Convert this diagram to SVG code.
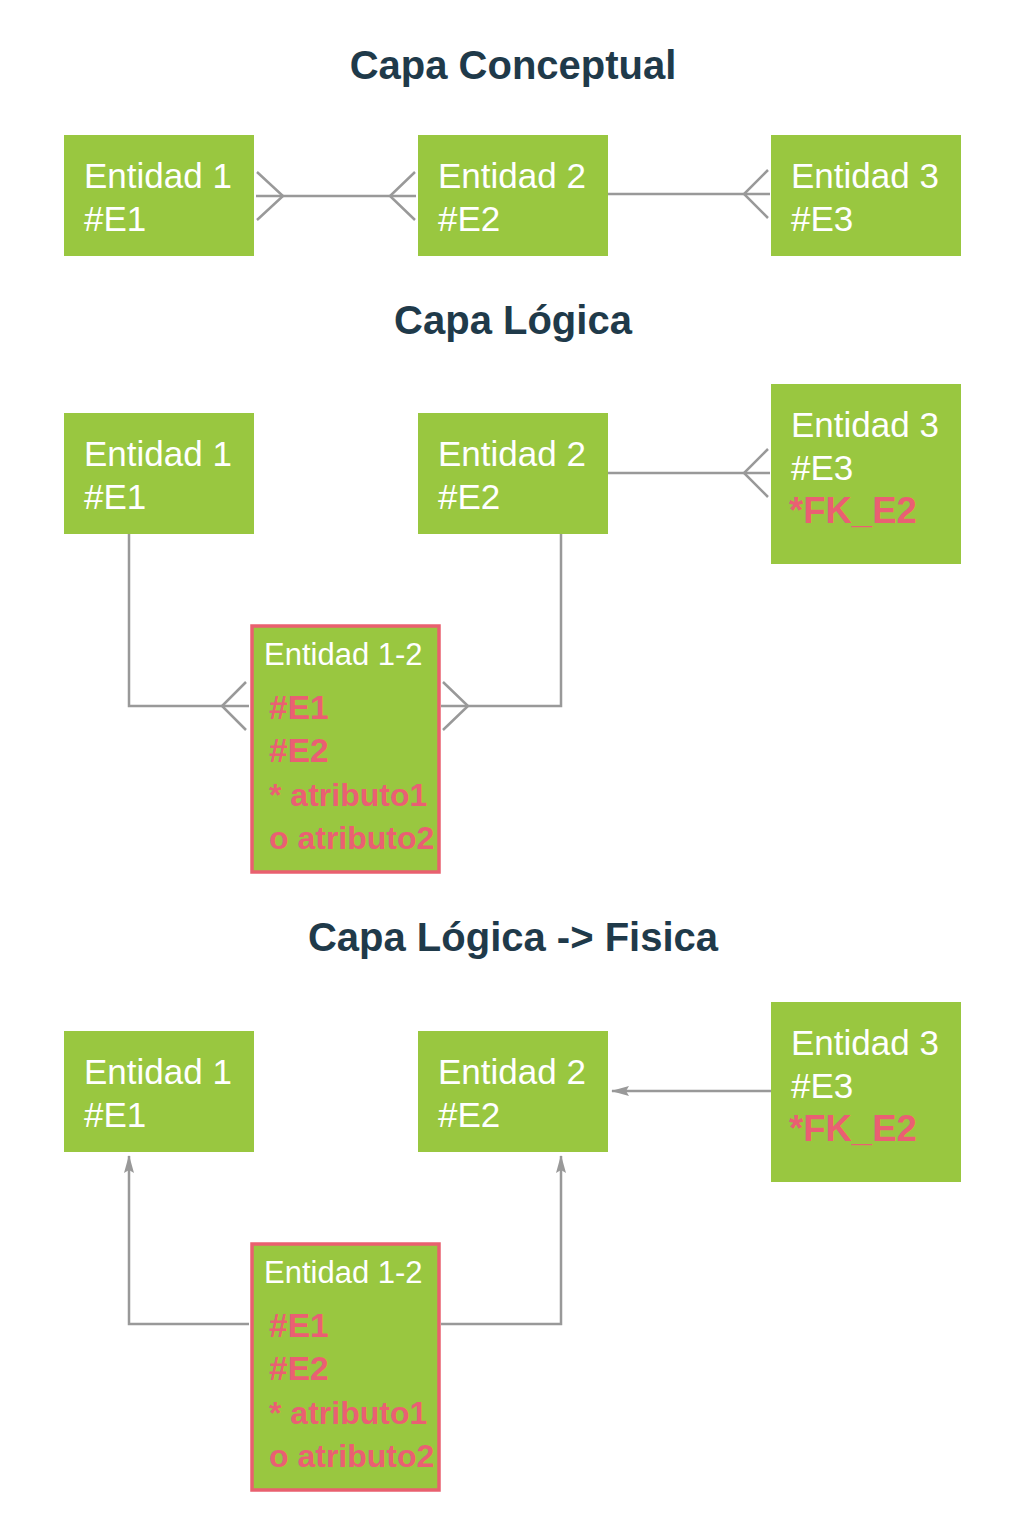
<svg xmlns="http://www.w3.org/2000/svg" width="1024" height="1536" viewBox="0 0 1024 1536">
<defs>
<style>
.title{font-family:"Liberation Sans",Arial,sans-serif;font-weight:bold;font-size:40px;fill:#1f3a4a;text-anchor:middle}
.box{fill:#99c740}
.jbox{fill:#99c740;stroke:#e9606f;stroke-width:3.5}
.t{font-family:"Liberation Sans",Arial,sans-serif;font-size:35px;fill:#ffffff}
.ts{font-family:"Liberation Sans",Arial,sans-serif;font-size:31px;fill:#ffffff}
.fk{font-family:"Liberation Sans",Arial,sans-serif;font-size:36.5px;font-weight:bold;fill:#ea5f73}
.pk{font-family:"Liberation Sans",Arial,sans-serif;font-size:33.5px;font-weight:bold;fill:#ea5f73}
.at{font-family:"Liberation Sans",Arial,sans-serif;font-size:32px;font-weight:bold;fill:#ea5f73}
.ln{fill:none;stroke:#999999;stroke-width:2.5}
</style>
<marker id="arrow" viewBox="0 0 18 12" refX="17" refY="6" markerWidth="18" markerHeight="12" markerUnits="userSpaceOnUse" orient="auto">
<path d="M0,1 L18,6 L0,11 L3,6 Z" fill="#999999"/>
</marker>
</defs>
<rect width="1024" height="1536" fill="#ffffff"/>

<text class="title" x="513" y="79">Capa Conceptual</text>
<text class="title" x="513" y="334">Capa Lógica</text>
<text class="title" x="513" y="951">Capa Lógica -&gt; Fisica</text>

<g id="connectors">
<path class="ln" d="M256,196 H416"/>
<path class="ln" d="M257,172 L283,196 L257,220"/>
<path class="ln" d="M415,172 L390,196 L415,220"/>
<path class="ln" d="M608,194 H770"/>
<path class="ln" d="M768,170 L744,194 L768,218"/>
<path class="ln" d="M129,534 V706 H249"/>
<path class="ln" d="M246,682 L222,706 L246,730"/>
<path class="ln" d="M561,534 V706 H441"/>
<path class="ln" d="M443,682 L468,706 L443,730"/>
<path class="ln" d="M608,473 H770"/>
<path class="ln" d="M768,449 L744,473 L768,497"/>
<path class="ln" d="M771,1091 H612" marker-end="url(#arrow)"/>
<path class="ln" d="M249,1324 H129 V1156" marker-end="url(#arrow)"/>
<path class="ln" d="M441,1324 H561 V1156" marker-end="url(#arrow)"/>
</g>

<g id="s1-e1"><rect class="box" x="64" y="135" width="190" height="121"/><text class="t" x="84" y="188">Entidad 1</text><text class="t" x="84" y="231">#E1</text></g>
<g id="s1-e2"><rect class="box" x="418" y="135" width="190" height="121"/><text class="t" x="438" y="188">Entidad 2</text><text class="t" x="438" y="231">#E2</text></g>
<g id="s1-e3"><rect class="box" x="771" y="135" width="190" height="121"/><text class="t" x="791" y="188">Entidad 3</text><text class="t" x="791" y="231">#E3</text></g>

<g id="s2-e1"><rect class="box" x="64" y="413" width="190" height="121"/><text class="t" x="84" y="466">Entidad 1</text><text class="t" x="84" y="509">#E1</text></g>
<g id="s2-e2"><rect class="box" x="418" y="413" width="190" height="121"/><text class="t" x="438" y="466">Entidad 2</text><text class="t" x="438" y="509">#E2</text></g>
<g id="s2-e3"><rect class="box" x="771" y="384" width="190" height="180"/><text class="t" x="791" y="437">Entidad 3</text><text class="t" x="791" y="480">#E3</text><text class="fk" x="789" y="523">*FK_E2</text></g>
<g id="s2-e12"><rect class="jbox" x="252" y="626" width="187" height="246"/><text class="ts" x="264" y="665">Entidad 1-2</text><text class="pk" x="269" y="719">#E1</text><text class="pk" x="269" y="762">#E2</text><text class="at" x="269" y="806">* atributo1</text><text class="at" x="269" y="849">o atributo2</text></g>

<g id="s3-e1"><rect class="box" x="64" y="1031" width="190" height="121"/><text class="t" x="84" y="1084">Entidad 1</text><text class="t" x="84" y="1127">#E1</text></g>
<g id="s3-e2"><rect class="box" x="418" y="1031" width="190" height="121"/><text class="t" x="438" y="1084">Entidad 2</text><text class="t" x="438" y="1127">#E2</text></g>
<g id="s3-e3"><rect class="box" x="771" y="1002" width="190" height="180"/><text class="t" x="791" y="1055">Entidad 3</text><text class="t" x="791" y="1098">#E3</text><text class="fk" x="789" y="1141">*FK_E2</text></g>
<g id="s3-e12"><rect class="jbox" x="252" y="1244" width="187" height="246"/><text class="ts" x="264" y="1283">Entidad 1-2</text><text class="pk" x="269" y="1337">#E1</text><text class="pk" x="269" y="1380">#E2</text><text class="at" x="269" y="1424">* atributo1</text><text class="at" x="269" y="1467">o atributo2</text></g>
</svg>
